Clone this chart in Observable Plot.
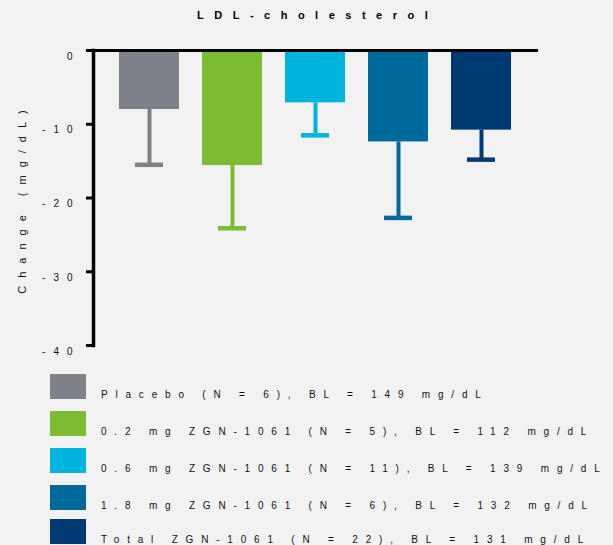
<!DOCTYPE html>
<html>
<head>
<meta charset="utf-8">
<script src="https://cdn.jsdelivr.net/npm/d3@7"></script>
<script src="https://cdn.jsdelivr.net/npm/@observablehq/plot@0.6"></script>
<style>
  html, body { margin: 0; padding: 0; background: #f2f2f2; }
  #wrap { position: relative; width: 613px; height: 545px; overflow: hidden;
          font-family: "Liberation Sans", Arial, sans-serif; color: #111; }
  #title { position: absolute; left: 197px; top: 15px; transform: translateY(-50%);
           font-weight: bold; font-size: 11px; letter-spacing: 10.5px; white-space: nowrap; color: #000; }
  #chart { position: absolute; left: 0; top: 30px; }
  .swatch { position: absolute; left: 50px; width: 36px; height: 25px; }
  .entry { position: absolute; left: 101px; font-size: 10px; letter-spacing: 7.8px;
           white-space: nowrap; transform: translateY(-50%); color: #111; }
</style>
</head>
<body>
<div id="wrap">
  <div id="title"></div>
  <div id="chart"></div>
  <div id="legend"></div>
</div>
<script>
// LDL-cholesterol change from baseline by treatment group
const titleText = "LDL-cholesterol";
const yTitle = "Change (mg/dL)";
const groups = ["Placebo", "0.2 mg", "0.6 mg", "1.8 mg", "Total"];
const meanChange = [-8.0, -15.6, -7.1, -12.4, -10.8];
const errorSize = [7.5, 8.5, 4.4, 10.3, 4.0];
const groupColors = ["#7f8189", "#7cbc31", "#00b5dd", "#006a9c", "#003a72"];
const yTicks = [0, -10, -20, -30, -40];
const yTickLabels = ["0", "-10", "-20", "-30", "-40"];
const legendLabels = [
  "Placebo (N = 6), BL = 149 mg/dL",
  "0.2 mg ZGN-1061 (N = 5), BL = 112 mg/dL",
  "0.6 mg ZGN-1061 (N = 11), BL = 139 mg/dL",
  "1.8 mg ZGN-1061 (N = 6), BL = 132 mg/dL",
  "Total ZGN-1061 (N = 22), BL = 131 mg/dL"
];

const rows = groups.map((g, i) => ({
  group: g,
  mean: meanChange[i],
  low: meanChange[i] - errorSize[i]
}));

document.getElementById("title").textContent = titleText;

const chart = Plot.plot({
  width: 613,
  height: 330,
  marginTop: 20,
  marginBottom: 15,
  marginLeft: 93,
  marginRight: 76,
  style: { background: "transparent", fontFamily: "Liberation Sans, Arial, sans-serif" },
  x: { domain: groups, axis: null, paddingInner: 0.277, paddingOuter: 0.313 },
  y: { domain: [-40, 0], axis: null },
  color: { domain: groups, range: groupColors },
  marks: [
    Plot.barY(rows, { x: "group", y1: 0, y2: "mean", fill: "group" }),
    Plot.ruleX(rows, { x: "group", y1: "mean", y2: "low", stroke: "group", strokeWidth: 4 }),
    Plot.tickY(rows, { x: "group", y: "low", stroke: "group", strokeWidth: 4.5, inset: 16 }),
    // y axis: vertical spine, outward ticks and the zero line across the top
    Plot.frame({ anchor: "left", stroke: "#000", strokeWidth: 3.5 }),
    Plot.ruleY(yTicks, { y: d => d, stroke: "#000", strokeWidth: 3, insetLeft: -7, insetRight: 444 }),
    Plot.ruleY([0], { stroke: "#000", strokeWidth: 3, insetLeft: -7, insetRight: -1 }),
    Plot.text(yTicks, { y: d => d, text: (d, i) => yTickLabels[i], frameAnchor: "left",
                        textAnchor: "end", dx: -13, dy: 6, fontSize: 10, fill: "#111" }),
    Plot.text([yTitle], { text: d => d, frameAnchor: "left", textAnchor: "middle",
                          rotate: -90, dx: -71, dy: 0, fontSize: 11, fill: "#111" })
  ]
});

// wide letter spacing on the axis texts
d3.select(chart).selectAll("text")
  .filter(function () { return yTickLabels.includes(this.textContent); })
  .style("letter-spacing", "8px");
d3.select(chart).selectAll("text")
  .filter(function () { return this.textContent === yTitle; })
  .style("letter-spacing", "8px");

document.getElementById("chart").appendChild(chart);

// legend below the plot
const swatchTops = [374, 411, 448, 485, 519];
const legend = document.getElementById("legend");
groups.forEach((g, i) => {
  const sw = document.createElement("div");
  sw.className = "swatch";
  sw.style.top = swatchTops[i] + "px";
  sw.style.background = groupColors[i];
  legend.appendChild(sw);
  const tx = document.createElement("div");
  tx.className = "entry";
  tx.style.top = (swatchTops[i] + 20) + "px";
  tx.textContent = legendLabels[i];
  legend.appendChild(tx);
});
</script>
</body>
</html>
